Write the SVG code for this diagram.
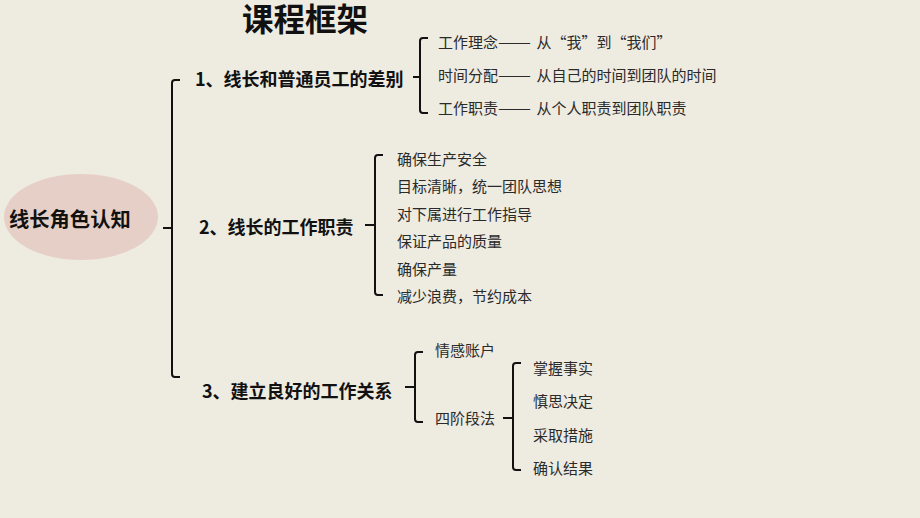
<svg xmlns="http://www.w3.org/2000/svg" width="920" height="518" viewBox="0 0 920 518">
<style>
text{font-family:"Noto Sans CJK SC","Noto Sans",sans-serif;fill:#1a1a1a}
.b{font-weight:bold;font-size:18px;fill:#111}
.i{font-size:15px;fill:#2a2a2a}
.fw{font-feature-settings:"fwid" 1}
.br{fill:none;stroke:#111;stroke-width:2;stroke-linecap:butt}
</style>
<rect width="920" height="518" fill="#EEEBE1"/>
<text x="305" y="31" text-anchor="middle" style="font-size:31.5px;font-weight:bold;fill:#111">课程框架</text>
<g id="connectors">
<path class="br" d="M180,80 H175 Q172,80 172,83 V374 Q172,377 175,377 H180 M163,228 H172"/>
<path class="br" d="M428,38 H423 Q420,38 420,41 V110 Q420,113 423,113 H428 M413,77 H420"/>
<path class="br" d="M383,155 H378 Q375,155 375,158 V292 Q375,295 378,295 H383 M365,225 H375"/>
<path class="br" d="M423,352 H418 Q415,352 415,355 V419 Q415,422 418,422 H423 M405,387 H415"/>
<path class="br" d="M521,363 H516 Q513,363 513,366 V467 Q513,470 516,470 H521 M503,418 H513"/>
</g>
<g id="root">
<ellipse cx="81" cy="217" rx="77" ry="43" fill="#E6CFC6"/>
<text x="9" y="227" style="font-size:20.3px;font-weight:bold;fill:#111">线长角色认知</text>
</g>
<g id="branch1">
<text class="b" x="195" y="86">1、线长和普通员工的差别</text>
</g>
<g id="b1-items">
<text class="i" x="438" y="47.5">工作理念<tspan textLength="33" lengthAdjust="spacingAndGlyphs">——</tspan> <tspan dx="2">从</tspan><tspan class="fw">“</tspan>我<tspan class="fw">”</tspan>到<tspan class="fw">“</tspan>我们<tspan class="fw">”</tspan></text>
<text class="i" x="438" y="80.5">时间分配<tspan textLength="33" lengthAdjust="spacingAndGlyphs">——</tspan> <tspan dx="2">从自己的时间到团队的时间</tspan></text>
<text class="i" x="438" y="113.5">工作职责<tspan textLength="33" lengthAdjust="spacingAndGlyphs">——</tspan> <tspan dx="2">从个人职责到团队职责</tspan></text>
</g>
<g id="branch2">
<text class="b" x="199" y="234">2、线长的工作职责</text>
</g>
<g id="b2-items">
<text class="i" x="397" y="164.7">确保生产安全</text>
<text class="i" x="397" y="192.2">目标清晰，统一团队思想</text>
<text class="i" x="397" y="219.7">对下属进行工作指导</text>
<text class="i" x="397" y="247.2">保证产品的质量</text>
<text class="i" x="397" y="274.7">确保产量</text>
<text class="i" x="397" y="302.2">减少浪费，节约成本</text>
</g>
<g id="branch3">
<text class="b" x="202" y="398">3、建立良好的工作关系</text>
</g>
<g id="b3-items">
<text class="i" x="435" y="355.7">情感账户</text>
<text class="i" x="435" y="424">四阶段法</text>
</g>
<g id="b3-steps">
<text class="i" x="533" y="374">掌握事实</text>
<text class="i" x="533" y="407">慎思决定</text>
<text class="i" x="533" y="440.7">采取措施</text>
<text class="i" x="533" y="474">确认结果</text>
</g>
</svg>
